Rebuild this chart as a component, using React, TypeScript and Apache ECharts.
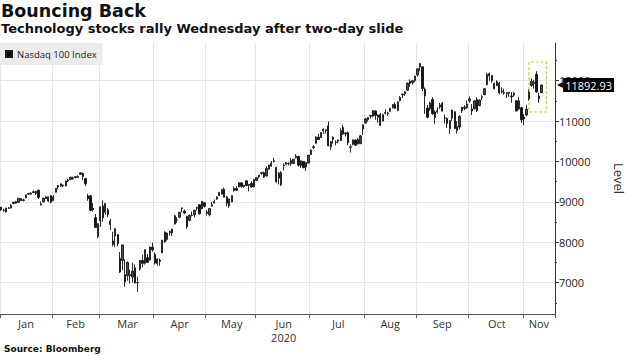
import React, { useEffect, useRef } from 'react';
import * as echarts from 'echarts';

// ---------- DATA ----------
const monthNames = ['Jan', 'Feb', 'Mar', 'Apr', 'May', 'Jun', 'Jul', 'Aug', 'Sep', 'Oct', 'Nov'];
const yearLabel = '2020';

const tradingDays: number[][] = [
  [2, 3, 6, 7, 8, 9, 10, 13, 14, 15, 16, 17, 21, 22, 23, 24, 27, 28, 29, 30, 31],
  [3, 4, 5, 6, 7, 10, 11, 12, 13, 14, 18, 19, 20, 21, 24, 25, 26, 27, 28],
  [2, 3, 4, 5, 6, 9, 10, 11, 12, 13, 16, 17, 18, 19, 20, 23, 24, 25, 26, 27, 30, 31],
  [1, 2, 3, 6, 7, 8, 9, 13, 14, 15, 16, 17, 20, 21, 22, 23, 24, 27, 28, 29, 30],
  [1, 4, 5, 6, 7, 8, 11, 12, 13, 14, 15, 18, 19, 20, 21, 22, 26, 27, 28, 29],
  [1, 2, 3, 4, 5, 8, 9, 10, 11, 12, 15, 16, 17, 18, 19, 22, 23, 24, 25, 26, 29, 30],
  [1, 2, 6, 7, 8, 9, 10, 13, 14, 15, 16, 17, 20, 21, 22, 23, 24, 27, 28, 29, 30, 31],
  [3, 4, 5, 6, 7, 10, 11, 12, 13, 14, 17, 18, 19, 20, 21, 24, 25, 26, 27, 28, 31],
  [1, 2, 3, 4, 8, 9, 10, 11, 14, 15, 16, 17, 18, 21, 22, 23, 24, 25, 28, 29, 30],
  [1, 2, 5, 6, 7, 8, 9, 12, 13, 14, 15, 16, 19, 20, 21, 22, 23, 26, 27, 28, 29, 30],
  [2, 3, 4, 5, 6, 9, 10, 11],
];
// empty trading days after the last bar (Nov)
const padDays = [12, 13, 16, 17, 18];

// rows: [open, close, low, high]
const jan = [
  [8800, 8872, 8780, 8873], [8780, 8794, 8760, 8830], [8750, 8849, 8740, 8850], [8850, 8846, 8825, 8870],
  [8850, 8912, 8830, 8950], [8960, 8994, 8940, 9000], [9010, 8973, 8950, 9025], [8990, 9092, 8985, 9093],
  [9080, 9033, 9020, 9090], [9030, 9052, 9015, 9080], [9100, 9174, 9090, 9175], [9190, 9211, 9170, 9212],
  [9190, 9215, 9180, 9240], [9250, 9230, 9225, 9280], [9210, 9261, 9170, 9270], [9290, 9109, 9070, 9300],
  [8930, 8952, 8905, 9010], [9000, 9091, 8990, 9100], [9120, 9084, 9070, 9140], [9020, 9125, 8995, 9130],
  [9150, 8992, 8960, 9165],
];
const feb = [
  [9030, 9126, 9020, 9170], [9240, 9334, 9230, 9345], [9400, 9367, 9310, 9420], [9390, 9446, 9370, 9450],
  [9410, 9401, 9360, 9430], [9390, 9517, 9385, 9518], [9540, 9518, 9490, 9575], [9550, 9613, 9545, 9615],
  [9570, 9596, 9550, 9625], [9605, 9624, 9580, 9630], [9605, 9630, 9590, 9660], [9680, 9719, 9675, 9736],
  [9700, 9628, 9540, 9725], [9580, 9447, 9390, 9590], [9150, 9080, 9030, 9200], [9150, 8791, 8770, 9170],
  [8840, 8802, 8760, 8970], [8610, 8367, 8360, 8700], [8140, 8462, 8100, 8465],
];
const mar = [
  [8530, 8878, 8380, 8880], [8900, 8610, 8510, 9040], [8740, 8963, 8680, 8965], [8800, 8692, 8620, 8850],
  [8440, 8530, 8300, 8580], [8030, 7949, 7900, 8260], [8150, 8339, 7880, 8340], [8190, 7971, 7900, 8195],
  [7600, 7263, 7240, 7760], [7550, 7936, 7310, 7937], [7200, 7020, 6900, 7580], [7170, 7504, 7050, 7530],
  [7200, 7174, 6980, 7320], [7140, 7288, 7000, 7500], [7370, 6994, 6980, 7450], [7000, 7006, 6772, 7150],
  [7340, 7554, 7300, 7560], [7550, 7479, 7380, 7690], [7480, 7818, 7450, 7830], [7620, 7502, 7490, 7710],
  [7560, 7884, 7550, 7890], [7880, 7813, 7770, 7990],
];
const apr = [
  [7700, 7486, 7450, 7750], [7470, 7588, 7420, 7600], [7560, 7528, 7420, 7600], [7740, 8052, 7730, 8060],
  [8250, 8009, 7990, 8270], [8070, 8230, 8040, 8240], [8270, 8239, 8170, 8290], [8230, 8326, 8150, 8330],
  [8450, 8658, 8440, 8680], [8560, 8555, 8480, 8620], [8620, 8745, 8590, 8750], [8850, 8832, 8740, 8860],
  [8770, 8724, 8700, 8810], [8640, 8390, 8340, 8650], [8540, 8666, 8520, 8690], [8670, 8662, 8640, 8760],
  [8680, 8794, 8620, 8800], [8840, 8863, 8790, 8880], [8930, 8703, 8690, 8940], [8830, 9015, 8820, 9020],
  [8980, 8890, 8860, 9000],
];
const may = [
  [8750, 8718, 8660, 8800], [8680, 8834, 8640, 8835], [8890, 8930, 8880, 9000], [8970, 9013, 8960, 9060],
  [9070, 9119, 9050, 9140], [9160, 9235, 9140, 9240], [9190, 9297, 9185, 9320], [9310, 9116, 9110, 9350],
  [9120, 8966, 8890, 9150], [8900, 9071, 8850, 9075], [9000, 9153, 8990, 9160], [9280, 9332, 9250, 9380],
  [9330, 9285, 9280, 9390], [9370, 9474, 9365, 9480], [9470, 9382, 9350, 9490], [9380, 9413, 9350, 9420],
  [9520, 9404, 9390, 9530], [9430, 9412, 9260, 9430], [9460, 9369, 9350, 9510], [9370, 9556, 9360, 9560],
];
const jun = [
  [9530, 9599, 9520, 9605], [9620, 9661, 9580, 9665], [9700, 9725, 9670, 9740], [9720, 9616, 9590, 9750],
  [9640, 9824, 9630, 9880], [9810, 9913, 9790, 9915], [9880, 9954, 9870, 10010], [10000, 10020, 9975, 10090],
  [9850, 9493, 9480, 9870], [9710, 9589, 9430, 9740], [9420, 9726, 9390, 9760], [9910, 9896, 9780, 9950],
  [9930, 9969, 9910, 9990], [9950, 9943, 9900, 9980], [10020, 9946, 9890, 10080], [9950, 10056, 9940, 10060],
  [10090, 10131, 10070, 10180], [10120, 9909, 9870, 10140], [9900, 10017, 9840, 10020], [10000, 9849, 9830, 10010],
  [9860, 9970, 9760, 9980], [9960, 10157, 9950, 10160],
];
const jul = [
  [10170, 10279, 10160, 10300], [10360, 10342, 10310, 10400], [10450, 10604, 10440, 10620], [10600, 10544, 10540, 10680],
  [10590, 10716, 10580, 10720], [10760, 10798, 10680, 10820], [10780, 10767, 10690, 10800], [10880, 10391, 10370, 10990],
  [10360, 10489, 10280, 10500], [10600, 10550, 10440, 10620], [10480, 10474, 10400, 10520], [10530, 10503, 10450, 10540],
  [10520, 10767, 10500, 10820], [10840, 10680, 10650, 10900], [10680, 10706, 10620, 10730], [10710, 10461, 10400, 10740],
  [10350, 10363, 10220, 10420], [10420, 10536, 10400, 10540], [10530, 10402, 10390, 10540], [10430, 10541, 10420, 10580],
  [10440, 10633, 10430, 10650], [10800, 10906, 10650, 10910],
];
const aug = [
  [10950, 11055, 10940, 11080], [11030, 11084, 10990, 11100], [11120, 11139, 11060, 11150], [11120, 11263, 11090, 11270],
  [11250, 11139, 11030, 11260], [11150, 11094, 10960, 11160], [11160, 10891, 10880, 11200], [11000, 11158, 10990, 11180],
  [11190, 11209, 11160, 11290], [11200, 11186, 11130, 11220], [11240, 11315, 11230, 11320], [11330, 11409, 11310, 11420],
  [11410, 11313, 11300, 11460], [11260, 11475, 11240, 11480], [11500, 11587, 11490, 11620], [11650, 11666, 11570, 11680],
  [11670, 11726, 11620, 11730], [11760, 11940, 11750, 11945], [11980, 11926, 11850, 12030], [11950, 11996, 11900, 12010],
  [12000, 12111, 11960, 12120],
];
const sep = [
  [12140, 12293, 12100, 12300], [12340, 12421, 12230, 12440], [12340, 11802, 11740, 12350], [11790, 11622, 11180, 11830],
  [11320, 11094, 11070, 11400], [11300, 11443, 11250, 11480], [11530, 11180, 11150, 11590], [11220, 11087, 10930, 11260],
  [11220, 11254, 11180, 11340], [11350, 11398, 11300, 11450], [11440, 11244, 11240, 11470], [11070, 11072, 10940, 11160],
  [11060, 10937, 10830, 11090], [10810, 11009, 10680, 11020], [11070, 11270, 11000, 11280], [11230, 10815, 10800, 11240],
  [10760, 10865, 10690, 11000], [10850, 11120, 10790, 11140], [11250, 11341, 11200, 11350], [11340, 11315, 11270, 11390],
  [11330, 11418, 11300, 11510],
];
const oct = [
  [11500, 11550, 11450, 11610], [11300, 11250, 11150, 11420], [11300, 11500, 11290, 11510], [11530, 11260, 11220, 11590],
  [11380, 11520, 11370, 11530], [11580, 11600, 11520, 11640], [11650, 11800, 11640, 11810], [11900, 12150, 11880, 12190],
  [12170, 12120, 12000, 12200], [12120, 12000, 11950, 12140], [11800, 11930, 11780, 11950], [11970, 11880, 11860, 12010],
  [11930, 11700, 11660, 11970], [11740, 11720, 11680, 11830], [11700, 11690, 11650, 11800], [11680, 11700, 11570, 11720],
  [11710, 11690, 11600, 11720], [11620, 11600, 11450, 11720], [11640, 11690, 11600, 11720], [11500, 11250, 11240, 11520],
  [11300, 11500, 11270, 11600], [11330, 11030, 10950, 11350],
];
const nov = [
  [11100, 11050, 10900, 11170], [11150, 11290, 11120, 11400], [11550, 11720, 11500, 11780], [11880, 11980, 11850, 12050],
  [11930, 11960, 11800, 12020], [12150, 11720, 11700, 12230], [11620, 11550, 11450, 11700], [11700, 11892.93, 11690, 11900],
];
const ohlcByMonth = [jan, feb, mar, apr, may, jun, jul, aug, sep, oct, nov];

const seriesName = 'Nasdaq 100 Index';
const lastValue = 11892.93;
const yMin = 6226;
const yMax = 12930;
const yTicks = [7000, 8000, 9000, 10000, 11000, 12000];
const yMinorTicks = [6500, 7500, 8500, 9500, 10500, 11500, 12500];
// highlighted recent bars (dashed box)
const boxFrom = 'Nov 4';
const boxTo = 'Nov 13';
const boxLow = 11223;
const boxHigh = 12460;

// ---------- BUILD ----------
const categories: string[] = [];
const monthStart: number[] = [];
const labelAt: Record<number, string> = {};
tradingDays.forEach((days, m) => {
  const allDays = m === tradingDays.length - 1 ? days.concat(padDays) : days;
  const start = categories.length;
  monthStart.push(start);
  allDays.forEach((d) => categories.push(`${monthNames[m]} ${d}`));
  const mid = start + Math.floor(allDays.length / 2);
  labelAt[mid] = monthNames[m] === 'Jun' ? `Jun\n${yearLabel}` : monthNames[m];
});
const candleData = ohlcByMonth.flat();
const startSet = new Set(monthStart);

const FONT = "'Open Sans', 'DejaVu Sans', sans-serif";
const TITLE_FONT = "'DejaVu Sans', Verdana, sans-serif";

export default function App() {
  const ref = useRef<HTMLDivElement>(null);
  useEffect(() => {
    if (!ref.current) return;
    const chart = echarts.init(ref.current, undefined, { renderer: 'svg' });
    chart.setOption({
      animation: false,
      backgroundColor: '#ffffff',
      textStyle: { fontFamily: FONT },
      title: [
        {
          text: 'Bouncing Back', left: 1, top: 2, padding: 0,
          textStyle: { fontFamily: TITLE_FONT, fontWeight: 'bold', fontSize: 17.5, color: '#111' },
        },
        {
          text: 'Technology stocks rally Wednesday after two-day slide', left: 1, top: 22, padding: 0,
          textStyle: { fontFamily: TITLE_FONT, fontWeight: 'bold', fontSize: 13, color: '#111' },
        },
        {
          text: 'Source: Bloomberg', left: 4, top: 344, padding: 0,
          textStyle: { fontFamily: TITLE_FONT, fontWeight: 'bold', fontSize: 9, color: '#111' },
        },
      ],
      legend: {
        left: 0, top: 43, padding: [6, 6, 6, 5], backgroundColor: '#ececec',
        itemWidth: 6, itemHeight: 6, selectedMode: false,
        textStyle: { fontSize: 9.5, color: '#222', fontFamily: FONT },
        data: [{ name: seriesName, icon: 'rect', itemStyle: { color: '#000' } }],
      },
      grid: { left: 0, right: 70, top: 43, bottom: 42, containLabel: false },
      xAxis: {
        type: 'category',
        data: categories,
        boundaryGap: true,
        axisLine: { show: true, lineStyle: { color: '#555', width: 1 } },
        axisTick: {
          show: true, length: 4, lineStyle: { color: '#555' },
          interval: (i: number) => startSet.has(i),
        },
        splitLine: {
          show: true, lineStyle: { color: '#e6e6e6', width: 1 },
          interval: (i: number) => startSet.has(i),
        },
        axisLabel: {
          interval: (i: number) => labelAt[i] !== undefined,
          formatter: (_v: string, i: number) => labelAt[i] ?? '',
          color: '#333', fontSize: 11, margin: 2, lineHeight: 14, fontFamily: FONT,
        },
      },
      yAxis: [
        {
          type: 'value', position: 'right', min: yMin, max: yMax,
          axisLine: { show: true, lineStyle: { color: '#333', width: 1 } },
          axisTick: { show: true, length: 4, customValues: yTicks, lineStyle: { color: '#333' } },
          axisLabel: {
            customValues: yTicks, margin: 4, color: '#222', fontSize: 11, fontFamily: FONT,
            formatter: (v: number) => String(Math.round(v)),
          },
          splitLine: { show: true, lineStyle: { color: '#e6e6e6', width: 1 } },
          name: 'Level', nameLocation: 'middle', nameRotate: -90, nameGap: 57,
          nameTextStyle: { fontSize: 13, color: '#333', fontFamily: FONT },
        },
        {
          type: 'value', position: 'right', min: yMin, max: yMax,
          axisLine: { show: false },
          axisTick: { show: true, length: 2, customValues: yMinorTicks, lineStyle: { color: '#333' } },
          axisLabel: { show: false },
          splitLine: { show: false },
        },
      ],
      series: [
        {
          name: seriesName,
          type: 'candlestick',
          data: candleData,
          barWidth: 1.8,
          clip: false,
          itemStyle: {
            color: '#4a4a4a', color0: '#111', borderColor: '#1a1a1a', borderColor0: '#111', borderWidth: 0.9,
          },
          markLine: {
            silent: true, symbol: ['none', 'none'],
            lineStyle: { width: 0, color: 'rgba(0,0,0,0)' },
            label: {
              show: true, position: 'end', distance: 2,
              formatter: () => `{a|◀}{b|${lastValue.toFixed(2)}}`,
              rich: {
                a: { color: '#000', fontSize: 8, fontFamily: TITLE_FONT },
                b: { color: '#fff', backgroundColor: '#000', fontSize: 11, fontFamily: FONT, padding: [2, 2, 1, 2] },
              },
            },
            data: [{ yAxis: lastValue }],
          },
          markArea: {
            silent: true,
            itemStyle: { color: 'rgba(0,0,0,0)', borderColor: '#bcd444', borderWidth: 1.2, borderType: [3, 2] },
            data: [[{ xAxis: boxFrom, yAxis: boxLow }, { xAxis: boxTo, yAxis: boxHigh }]],
          },
        },
      ],
    });
    return () => chart.dispose();
  }, []);
  return (
    <div
      ref={ref}
      style={{ position: 'fixed', left: 0, top: 0, width: 633, height: 356, background: '#fff' }}
    />
  );
}
